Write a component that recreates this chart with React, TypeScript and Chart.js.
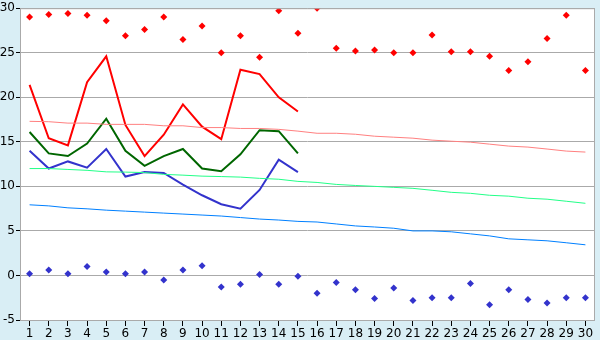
import React, { useEffect, useRef } from "react";
import { Chart, registerables } from "chart.js";

Chart.register(...registerables);

const days = Array.from({ length: 30 }, (_, i) => String(i + 1));

const maxTemp = [21.4, 15.4, 14.6, 21.7, 24.6, 16.9, 13.4, 15.8, 19.2, 16.7, 15.3, 23.1, 22.6, 20.0, 18.4];
const avgTemp = [16.1, 13.7, 13.4, 14.8, 17.6, 14.0, 12.3, 13.4, 14.2, 12.0, 11.7, 13.6, 16.3, 16.2, 13.7];
const minTemp = [14.0, 12.0, 12.8, 12.1, 14.2, 11.1, 11.6, 11.5, 10.2, 9.0, 8.0, 7.5, 9.6, 13.0, 11.6];

const recordMax = [29.0, 29.3, 29.4, 29.2, 28.6, 26.9, 27.6, 29.0, 26.5, 28.0, 25.0, 26.9, 24.5, 29.7, 27.2,
  30.0, 25.5, 25.2, 25.3, 25.0, 25.0, 27.0, 25.1, 25.1, 24.6, 23.0, 24.0, 26.6, 29.2, 23.0];
const recordMin = [0.2, 0.6, 0.2, 1.0, 0.4, 0.2, 0.4, -0.5, 0.6, 1.1, -1.3, -1.0, 0.1, -1.0, -0.1,
  -2.0, -0.8, -1.6, -2.6, -1.4, -2.8, -2.5, -2.5, -0.9, -3.3, -1.6, -2.7, -3.1, -2.5, -2.5];

const normalMax = [17.3, 17.26, 17.1, 17.1, 16.96, 16.96, 16.96, 16.8, 16.8, 16.6, 16.6, 16.5, 16.5, 16.4, 16.2,
  15.96, 15.96, 15.85, 15.63, 15.52, 15.41, 15.19, 15.07, 14.96, 14.74, 14.52, 14.41, 14.19, 13.96, 13.85];
const normalAvg = [12.0, 12.0, 11.9, 11.8, 11.63, 11.6, 11.55, 11.35, 11.26, 11.15, 11.1, 11.04, 10.9, 10.8, 10.56,
  10.44, 10.22, 10.1, 10.0, 9.89, 9.78, 9.56, 9.33, 9.22, 9.0, 8.9, 8.67, 8.56, 8.33, 8.1];
const normalMin = [7.93, 7.81, 7.59, 7.48, 7.33, 7.22, 7.11, 7.0, 6.89, 6.78, 6.67, 6.5, 6.33, 6.22, 6.07,
  6.0, 5.78, 5.56, 5.44, 5.3, 5.0, 5.0, 4.9, 4.67, 4.44, 4.11, 4.0, 3.89, 3.67, 3.44];

const yTicks = [-5, 0, 5, 10, 15, 20, 25, 30];

const bgPlugin = {
  id: "bgPlugin",
  beforeDraw(chart: any) {
    const { ctx, chartArea: a, width, height } = chart;
    ctx.save();
    ctx.fillStyle = "#d9eef5";
    ctx.fillRect(0, 0, width, height);
    ctx.fillStyle = "#ffffff";
    ctx.fillRect(a.left, a.top, a.right - a.left, a.bottom - a.top);
    ctx.restore();
  },
  afterDatasetsDraw(chart: any) {
    const { ctx, chartArea: a } = chart;
    ctx.save();
    ctx.strokeStyle = "#aaaaaa";
    ctx.lineWidth = 1;
    ctx.beginPath();
    ctx.moveTo(a.left + 0.5, a.bottom);
    ctx.lineTo(a.left + 0.5, a.top + 0.5);
    ctx.lineTo(a.right - 0.5, a.top + 0.5);
    ctx.lineTo(a.right - 0.5, a.bottom);
    ctx.stroke();
    ctx.restore();
  },
};

export default function App() {
  const ref = useRef<HTMLCanvasElement>(null);
  useEffect(() => {
    document.body.style.margin = "0";
    const font = { family: "DejaVu Sans", size: 12 };
    const lineDs = (label: string, data: number[], color: string, width: number) => ({
      type: "line" as const,
      label,
      data,
      borderColor: color,
      backgroundColor: color,
      borderWidth: width,
      pointRadius: 0,
      tension: 0,
      fill: false,
    });
    const chart = new Chart(ref.current!, {
      type: "line",
      data: {
        labels: days,
        datasets: [
          lineDs("Normal max", normalMax, "#ff8080", 1),
          lineDs("Normal avg", normalAvg, "#22ff88", 1),
          lineDs("Normal min", normalMin, "#0080ff", 1),
          lineDs("Max", maxTemp, "#ff0000", 2),
          lineDs("Avg", avgTemp, "#006600", 2),
          lineDs("Min", minTemp, "#3333cc", 2),
          {
            type: "line",
            label: "Record max",
            data: recordMax,
            showLine: false,
            pointStyle: "rectRot",
            pointRadius: 3.5,
            pointBorderWidth: 0,
            backgroundColor: "#ff0000",
            borderColor: "#ff0000",
          },
          {
            type: "line",
            label: "Record min",
            data: recordMin,
            showLine: false,
            pointStyle: "rectRot",
            pointRadius: 3.5,
            pointBorderWidth: 0,
            backgroundColor: "#3333cc",
            borderColor: "#3333cc",
          },
        ],
      },
      options: {
        responsive: false,
        animation: false,
        layout: { padding: { top: 5, right: 5, left: 0, bottom: 0 } },
        plugins: { legend: { display: false }, tooltip: { enabled: false } },
        scales: {
          x: {
            offset: true,
            grid: { drawOnChartArea: false, drawTicks: true, tickLength: 6, tickColor: "#000", offset: false },
            border: { display: false },
            ticks: { color: "#000", font, padding: 1, maxRotation: 0, autoSkip: false },
            afterFit(scale: any) { scale.height = 20; },
          },
          y: {
            min: -5,
            max: 30,
            afterBuildTicks(scale: any) { scale.ticks = yTicks.map((v) => ({ value: v })); },
            grid: { color: "#aaaaaa", tickLength: 4, tickColor: "#000" },
            border: { display: false },
            ticks: { color: "#000", font, padding: 1 },
            afterFit(scale: any) { scale.width = 20; },
          },
        },
      },
      plugins: [bgPlugin],
    });
    return () => chart.destroy();
  }, []);
  return <canvas ref={ref} width={600} height={340} style={{ display: "block" }} />;
}
